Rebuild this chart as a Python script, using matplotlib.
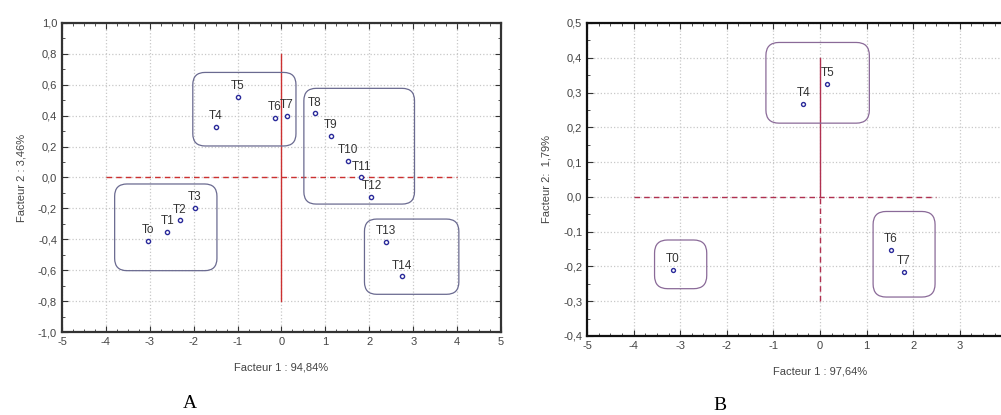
import numpy as np
import matplotlib.pyplot as plt
from matplotlib.patches import FancyBboxPatch
from matplotlib.ticker import MultipleLocator, FuncFormatter

# panel A data
a_labels = ['To', 'T1', 'T2', 'T3', 'T4', 'T5', 'T6', 'T7', 'T8', 'T9', 'T10', 'T11', 'T12', 'T13', 'T14']
a_x = [-3.04, -2.60, -2.32, -1.98, -1.50, -0.99, -0.15, 0.12, 0.76, 1.12, 1.51, 1.82, 2.05, 2.38, 2.74]
a_y = [-0.41, -0.355, -0.278, -0.195, 0.327, 0.52, 0.385, 0.40, 0.415, 0.267, 0.11, 0.0, -0.125, -0.415, -0.64]
# group boxes (x0, x1, y0, y1)
a_groups = [(-3.80, -1.47, -0.603, -0.042),
            (-2.02, 0.33, 0.204, 0.68),
            (0.51, 3.03, -0.172, 0.577),
            (1.89, 4.04, -0.756, -0.269)]

# panel B data
b_labels = ['T0', 'T4', 'T5', 'T6', 'T7']
b_x = [-3.16, -0.36, 0.16, 1.52, 1.80]
b_y = [-0.21, 0.267, 0.324, -0.153, -0.217]
b_groups = [(-3.55, -2.43, -0.264, -0.124),
            (-1.16, 1.06, 0.212, 0.444),
            (1.14, 2.47, -0.288, -0.042)]

comma = FuncFormatter(lambda v, p: ('%.1f' % v).replace('.', ','))
intfmt = FuncFormatter(lambda v, p: '%d' % round(v))
intfmt_b = FuncFormatter(lambda v, p: '%d' % round(v) if v < 3.5 else '')

fig = plt.figure(figsize=(10.01, 4.15), dpi=100)
plt.rcParams['font.family'] = ['Liberation Sans', 'DejaVu Sans']


def setup(ax, xlim, ylim, ymaj, ymin, spine_col, xfmt):
    ax.set_xlim(*xlim)
    ax.set_ylim(*ylim)
    ax.xaxis.set_major_locator(MultipleLocator(1))
    ax.xaxis.set_minor_locator(MultipleLocator(0.25))
    ax.yaxis.set_major_locator(MultipleLocator(ymaj))
    ax.yaxis.set_minor_locator(MultipleLocator(ymin))
    ax.xaxis.set_major_formatter(xfmt)
    ax.yaxis.set_major_formatter(comma)
    ax.tick_params(which='both', direction='in', top=True, right=True,
                   labelsize=8, labelcolor='#444444', color='#333333')
    ax.tick_params(which='major', length=4)
    ax.tick_params(which='minor', length=2)
    ax.grid(True, which='major', linestyle=':', color='#c8c8c8', lw=0.9)
    for s in ax.spines.values():
        s.set_color(spine_col)
        s.set_linewidth(1.6)


def boxes(ax, groups, col, r, aspect):
    for x0, x1, y0, y1 in groups:
        p = FancyBboxPatch((x0, y0), x1 - x0, y1 - y0,
                           boxstyle='round,pad=0,rounding_size=%f' % r,
                           mutation_aspect=aspect, fill=False, ec=col, lw=0.9, zorder=3)
        ax.add_patch(p)


# ---- A
axA = fig.add_axes([0.0619, 0.2, 0.4386, 0.7446])
setup(axA, (-5, 5), (-1.0, 1.0), 0.2, 0.1, '#333333', intfmt)
axA.plot([-4, 4], [0, 0], color='#cc3030', lw=1.0, ls=(0, (4, 3)), zorder=2)
axA.plot([0, 0], [-0.8, 0.8], color='#cc3030', lw=1.0, zorder=2)
boxes(axA, a_groups, '#6a6a90', 0.28, 43.9 / 154.5)
axA.scatter(a_x, a_y, s=9, facecolors='white', edgecolors='#2a2a9a', lw=1.0, zorder=4)
for lab, x, y in zip(a_labels, a_x, a_y):
    axA.annotate(lab, (x, y), xytext=(0, 3.5), textcoords='offset points',
                 ha='center', va='bottom', fontsize=8.5, color='#333333', zorder=5)
axA.set_xlabel('Facteur 1 : 94,84%', fontsize=8, color='#444444', labelpad=11)
axA.set_ylabel('Facteur 2 : 3,46%', fontsize=8, color='#444444', labelpad=8)

# ---- B
axB = fig.add_axes([0.5864, 0.1904, 0.4655, 0.7542])
setup(axB, (-5, 5), (-0.4, 0.5), 0.1, 0.05, '#111111', intfmt_b)
axB.plot([-4, 2.5], [0, 0], color='#b03050', lw=1.0, ls=(0, (4, 3)), zorder=2)
axB.plot([0, 0], [0, 0.4], color='#b03050', lw=1.0, zorder=2)
axB.plot([0, 0], [-0.3, 0], color='#b03050', lw=1.0, ls=(0, (4, 3)), zorder=2)
boxes(axB, b_groups, '#8a6a98', 0.28, 46.7 / 347.8)
axB.scatter(b_x, b_y, s=8, facecolors='white', edgecolors='#2a2a9a', lw=1.0, zorder=4)
for lab, x, y in zip(b_labels, b_x, b_y):
    axB.annotate(lab, (x, y), xytext=(0, 3.5), textcoords='offset points',
                 ha='center', va='bottom', fontsize=8.5, color='#333333', zorder=5)
axB.set_xlabel('Facteur 1 : 97,64%', fontsize=8, color='#444444', labelpad=11)
axB.set_ylabel('Facteur 2:  1,79%', fontsize=8, color='#444444', labelpad=8)

fig.text(190 / 1001, 1 - 403 / 415, 'A', family='Liberation Serif', fontsize=14, ha='center', va='center')
fig.text(720 / 1001, 1 - 405 / 415, 'B', family='Liberation Serif', fontsize=14, ha='center', va='center')

fig.savefig('out.png', dpi=100)
